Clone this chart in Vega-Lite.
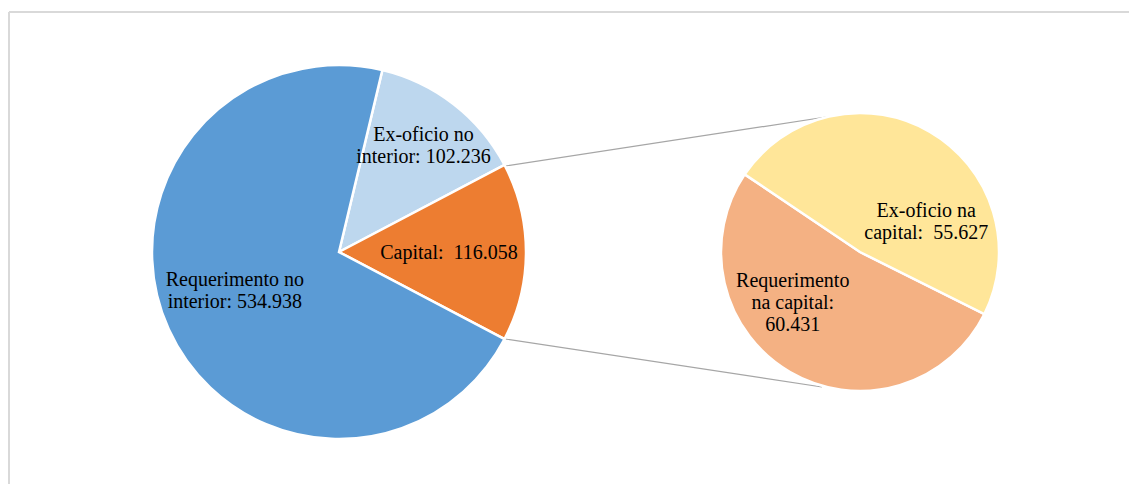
{
  "$schema": "https://vega.github.io/schema/vega-lite/v6.json",
  "width": 1129,
  "height": 484,
  "padding": 0,
  "autosize": {"type": "none"},
  "background": "white",
  "config": {"view": {"stroke": null}},
  "resolve": {"scale": {"theta": "independent", "color": "independent"}},
  "layer": [
    {
      "data": {"values": [{"elemento": "moldura"}]},
      "layer": [
        {"mark": {"type": "rule", "stroke": "#D9D9D9", "strokeWidth": 2}, "encoding": {"x": {"value": 9}, "y": {"value": 12}, "x2": {"value": 1129}, "y2": {"value": 12}}},
        {"mark": {"type": "rule", "stroke": "#D9D9D9", "strokeWidth": 2}, "encoding": {"x": {"value": 9}, "y": {"value": 12}, "x2": {"value": 9}, "y2": {"value": 484}}},
        {"mark": {"type": "rule", "stroke": "#A6A6A6", "strokeWidth": 1.2}, "encoding": {"x": {"value": 505}, "y": {"value": 166}, "x2": {"value": 826}, "y2": {"value": 117}}},
        {"mark": {"type": "rule", "stroke": "#A6A6A6", "strokeWidth": 1.2}, "encoding": {"x": {"value": 505}, "y": {"value": 339}, "x2": {"value": 822}, "y2": {"value": 387}}}
      ]
    },
    {
      "data": {"values": [
        {"categoria": "Ex-oficio no interior", "valor": 102.236, "ordem": 1, "rotulo": "Ex-oficio no\ninterior: 102.236"},
        {"categoria": "Capital", "valor": 116.058, "ordem": 2, "rotulo": "Capital:\u00a0 116.058"},
        {"categoria": "Requerimento no interior", "valor": 534.938, "ordem": 3, "rotulo": "Requerimento no\ninterior: 534.938"}
      ]},
      "encoding": {
        "theta": {"field": "valor", "type": "quantitative", "stack": true, "scale": {"range": [0.2339, 6.5171]}},
        "order": {"field": "ordem", "type": "quantitative"}
      },
      "layer": [
        {
          "mark": {"type": "arc", "x": 339, "y": 252, "outerRadius": 187, "stroke": "white", "strokeWidth": 2.5},
          "encoding": {
            "color": {"field": "categoria", "type": "nominal", "legend": null,
              "scale": {"domain": ["Ex-oficio no interior", "Capital", "Requerimento no interior"], "range": ["#BDD7EE", "#ED7D31", "#5B9BD5"]}}
          }
        },
        {
          "mark": {"type": "text", "x": 338, "y": 252, "radius": 110, "dx": 18, "dy": -30, "font": "Liberation Serif", "fontSize": 20, "lineHeight": 22, "lineBreak": "\n", "color": "black", "align": "center", "baseline": "middle"},
          "encoding": {"text": {"condition": {"test": "datum.categoria === 'Ex-oficio no interior'", "field": "rotulo", "type": "nominal"}, "value": ""}}
        },
        {
          "mark": {"type": "text", "x": 338, "y": 252, "radius": 110, "dx": 1, "dy": 1, "font": "Liberation Serif", "fontSize": 20, "lineHeight": 22, "lineBreak": "\n", "color": "black", "align": "center", "baseline": "middle"},
          "encoding": {"text": {"condition": {"test": "datum.categoria === 'Capital'", "field": "rotulo", "type": "nominal"}, "value": ""}}
        },
        {
          "mark": {"type": "text", "x": 338, "y": 252, "radius": 110, "dx": -3, "dy": -17, "font": "Liberation Serif", "fontSize": 20, "lineHeight": 22, "lineBreak": "\n", "color": "black", "align": "center", "baseline": "middle"},
          "encoding": {"text": {"condition": {"test": "datum.categoria === 'Requerimento no interior'", "field": "rotulo", "type": "nominal"}, "value": ""}}
        }
      ]
    },
    {
      "data": {"values": [
        {"categoria": "Requerimento na capital", "valor": 60.431, "ordem": 1, "rotulo": "Requerimento\nna capital:\n60.431"},
        {"categoria": "Ex-oficio na capital", "valor": 55.627, "ordem": 2, "rotulo": "Ex-oficio na\ncapital:\u00a0 55.627"}
      ]},
      "encoding": {
        "theta": {"field": "valor", "type": "quantitative", "stack": true, "scale": {"range": [2.0333, 8.3165]}},
        "order": {"field": "ordem", "type": "quantitative"}
      },
      "layer": [
        {
          "mark": {"type": "arc", "x": 860, "y": 252, "outerRadius": 139, "stroke": "white", "strokeWidth": 2.5},
          "encoding": {
            "color": {"field": "categoria", "type": "nominal", "legend": null,
              "scale": {"domain": ["Requerimento na capital", "Ex-oficio na capital"], "range": ["#F4B183", "#FFE699"]}}
          }
        },
        {
          "mark": {"type": "text", "x": 860, "y": 252, "radius": 70, "dx": 31, "dy": 19, "font": "Liberation Serif", "fontSize": 20, "lineHeight": 22, "lineBreak": "\n", "color": "black", "align": "center", "baseline": "middle"},
          "encoding": {"text": {"condition": {"test": "datum.categoria === 'Ex-oficio na capital'", "field": "rotulo", "type": "nominal"}, "value": ""}}
        },
        {
          "mark": {"type": "text", "x": 860, "y": 252, "radius": 70, "dx": -32, "dy": -31, "font": "Liberation Serif", "fontSize": 20, "lineHeight": 22, "lineBreak": "\n", "color": "black", "align": "center", "baseline": "middle"},
          "encoding": {"text": {"condition": {"test": "datum.categoria === 'Requerimento na capital'", "field": "rotulo", "type": "nominal"}, "value": ""}}
        }
      ]
    }
  ]
}
